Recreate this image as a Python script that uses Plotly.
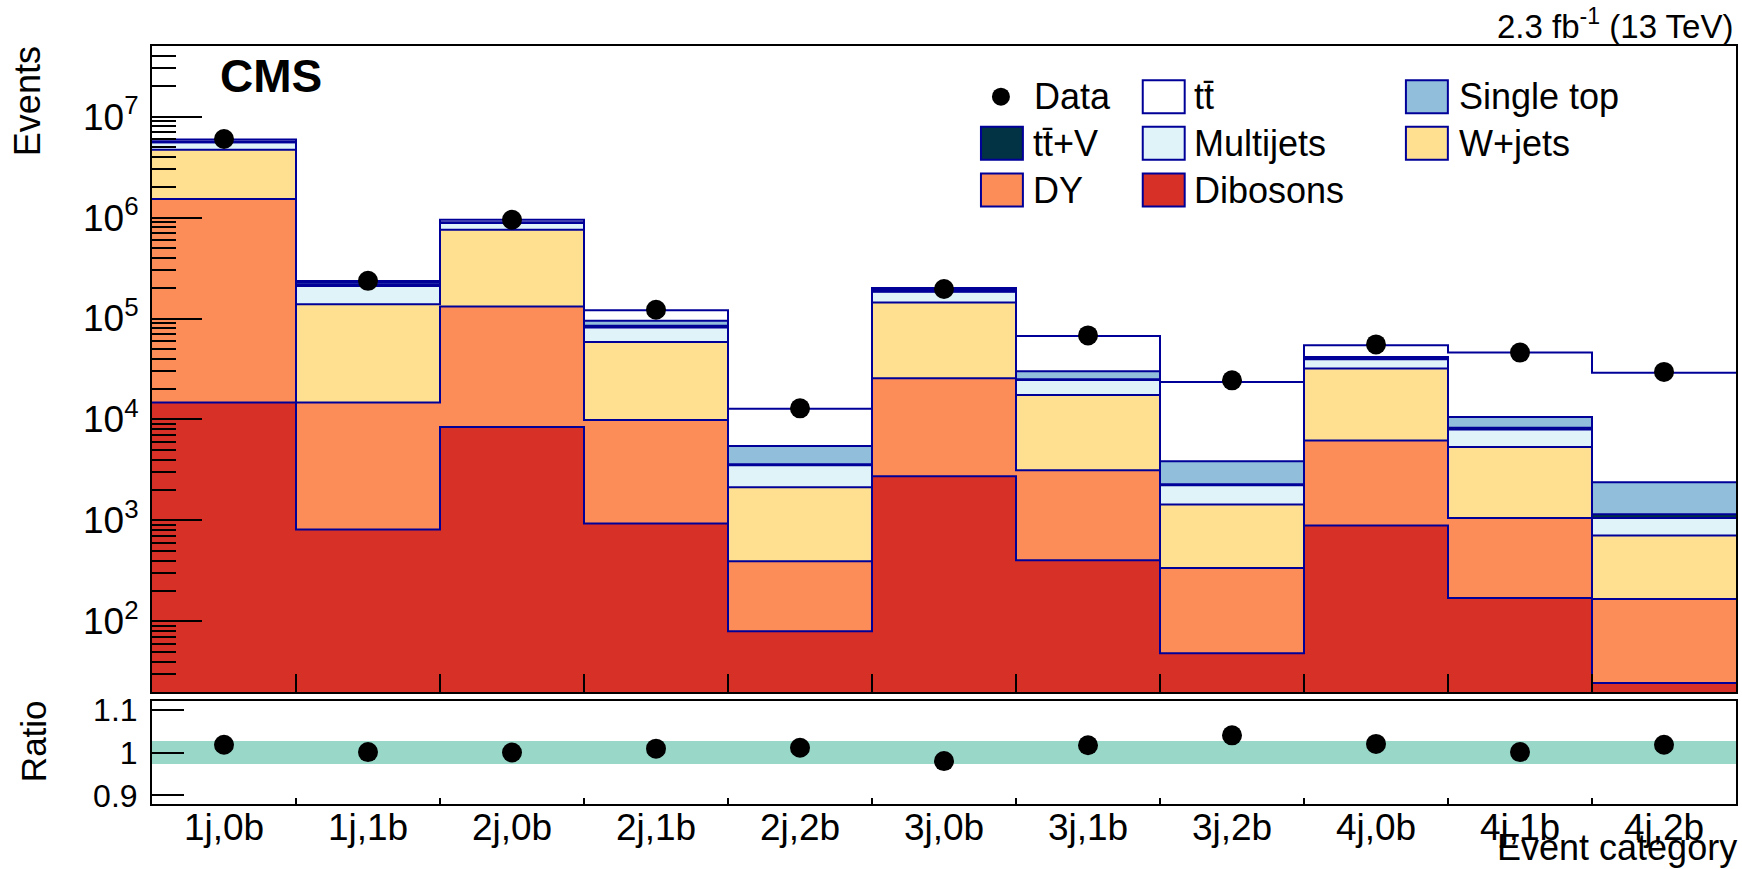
import numpy as np
import plotly.graph_objects as go

categories = ["1j,0b", "1j,1b", "2j,0b", "2j,1b", "2j,2b", "3j,0b",
              "3j,1b", "3j,2b", "4j,0b", "4j,1b", "4j,2b"]

# Stack components (bottom to top)
dibosons  = [14700, 813, 8410, 931, 80, 2740, 403, 48.5, 889, 171, 24.5]
dy        = [1.51e6, 1.39e4, 1.23e5, 8930, 314, 2.29e4, 2747, 290, 5311, 889, 142.5]
wjets     = [3.16e6, 1.24e5, 6.26e5, 4.87e4, 1736, 1.184e5, 1.435e4, 1100, 2.57e4, 4270, 541]
multijets = [8.9e5, 7.1e4, 1.24e5, 2.29e4, 1400, 4.0e4, 7100, 790, 7500, 2650, 352]
ttv       = [3000, 6000, 2000, 3500, 70, 2000, 400, 50, 600, 320, 90]
singletop = [9.7e4, 1.0e4, 1.7e4, 1.0e4, 1850, 6000, 5000, 1580, 1600, 2300, 1240]
ttbar     = [2.5e5, 1.0e4, 5.1e4, 2.6e4, 7350, 8000, 3.7e4, 1.964e4, 1.27e4, 3.54e4, 2.67e4]

data      = [6.0e6, 2.36e5, 9.5e5, 1.22e5, 1.29e4, 1.96e5, 6.8e4, 2.44e4, 5.54e4, 4.6e4, 2.96e4]
ratio     = [1.018, 1.001, 1.000, 1.009, 1.011, 0.980, 1.017, 1.040, 1.020, 1.001, 1.018]
ratio_unc = [0.027] * 11

ytick_vals = [1e2, 1e3, 1e4, 1e5, 1e6, 1e7]
ytick_text = ["10<sup>2</sup>", "10<sup>3</sup>", "10<sup>4</sup>", "10<sup>5</sup>",
              "10<sup>6</sup>", "10<sup>7</sup>"]
rtick_vals = [0.9, 1.0, 1.1]
rtick_text = ["0.9", "1", "1.1"]

processes = [
    ("Dibosons", dibosons, "#D73027"),
    ("DY", dy, "#FC8D59"),
    ("W+jets", wjets, "#FEE090"),
    ("Multijets", multijets, "#E0F3F8"),
    ("tt\u0304+V", ttv, "#023344"),
    ("Single top", singletop, "#91BFDB"),
    ("tt\u0304", ttbar, "#FFFFFF"),
]
OUTLINE = "#000099"
FONT = "Liberation Sans, Arial, Helvetica, sans-serif"

n = len(categories)
centers = np.arange(n) + 0.5
edges = np.arange(n + 1)

fig = go.Figure()

# filled stacked histograms
for name, vals, col in processes:
    fig.add_trace(go.Bar(x=centers, y=vals, width=1.0, marker=dict(color=col, line=dict(width=0)),
                         name=name, showlegend=False, xaxis="x", yaxis="y"))

# step outlines of each cumulative level
cum = np.zeros(n)
for name, vals, col in processes:
    cum = cum + np.array(vals, dtype=float)
    fig.add_trace(go.Scatter(x=edges, y=np.append(cum, cum[-1]), mode="lines",
                             line=dict(color=OUTLINE, width=2, shape="hv"),
                             showlegend=False, hoverinfo="skip", xaxis="x", yaxis="y"))

# data points
fig.add_trace(go.Scatter(x=centers, y=data, mode="markers",
                         marker=dict(color="black", size=20), showlegend=False,
                         xaxis="x", yaxis="y"))

# ratio band and points
unc = np.array(ratio_unc)
fig.add_trace(go.Bar(x=centers, y=2 * unc, base=1 - unc, width=1.0,
                     marker=dict(color="#99D8C9", line=dict(width=0)),
                     showlegend=False, xaxis="x2", yaxis="y2"))
fig.add_trace(go.Scatter(x=centers, y=ratio, mode="markers",
                         marker=dict(color="black", size=20), showlegend=False,
                         xaxis="x2", yaxis="y2"))

# geometry in pixels
L, R, T, B = 152, 1738, 46, 804
W, H = R - L, B - T
def fx(p):
    return (p - L) / W
def fy(p):
    return (B - p) / H

main_bottom = 692
ratio_top = 701

minor_vals = []
for e in range(1, 8):
    for d in range(2, 10):
        minor_vals.append(d * 10 ** e)

fig.update_layout(
    width=1742, height=869,
    margin=dict(l=L, r=1742 - R, t=T, b=869 - B),
    paper_bgcolor="white", plot_bgcolor="white",
    barmode="stack", bargap=0,
    font=dict(family=FONT, color="black"),
    xaxis=dict(domain=[0, 1], anchor="y", range=[0, n], showgrid=False, zeroline=False,
               tickmode="array", tickvals=list(edges[1:-1]), ticks="inside", ticklen=18,
               tickwidth=2, tickcolor="black", showticklabels=False,
               showline=True, linecolor="black", linewidth=2, mirror=True),
    yaxis=dict(domain=[fy(main_bottom), 1], anchor="x", type="log",
               range=[np.log10(20), np.log10(5e7)], showgrid=False, zeroline=False,
               tickmode="array", tickvals=ytick_vals, ticktext=ytick_text,
               ticks="inside", ticklen=50, tickwidth=2, tickcolor="black",
               tickfont=dict(size=37, family=FONT), ticklabelstandoff=4,
               minor=dict(tickmode="array", tickvals=minor_vals, ticks="inside",
                          ticklen=24, tickwidth=2, tickcolor="black", showgrid=False),
               showline=True, linecolor="black", linewidth=2, mirror=True),
    xaxis2=dict(domain=[0, 1], anchor="y2", range=[0, n], showgrid=False, zeroline=False,
                tickmode="array", tickvals=list(centers), ticktext=categories, ticks="",
                tickfont=dict(size=37, family=FONT), ticklabelstandoff=-10,
                minor=dict(tickmode="array", tickvals=list(edges[1:-1]), ticks="inside",
                           ticklen=6, tickwidth=2, tickcolor="black", showgrid=False),
                showline=True, linecolor="black", linewidth=2, mirror=True),
    yaxis2=dict(domain=[0, fy(ratio_top)], anchor="x2", range=[0.88, 1.12],
                showgrid=False, zeroline=False,
                tickmode="array", tickvals=rtick_vals, ticktext=rtick_text,
                ticks="inside", ticklen=32, tickwidth=2, tickcolor="black",
                tickfont=dict(size=32, family=FONT), ticklabelstandoff=6,
                showline=True, linecolor="black", linewidth=2, mirror=True),
)

annotations = [
    dict(text="<b>CMS</b>", x=fx(218), y=fy(76), xanchor="left", yanchor="middle",
         font=dict(size=46, family=FONT)),
    dict(text="2.3 fb<sup>-1</sup> (13 TeV)", x=fx(1737), y=fy(24), xanchor="right",
         yanchor="middle", font=dict(size=33, family=FONT)),
    dict(text="Events", x=fx(28), y=fy(101), textangle=-90, xanchor="center",
         yanchor="middle", font=dict(size=36, family=FONT)),
    dict(text="Ratio", x=fx(33), y=fy(741), textangle=-90, xanchor="center",
         yanchor="middle", font=dict(size=35, family=FONT)),
    dict(text="Event category", x=fx(1740), y=fy(869), xanchor="right",
         yanchor="bottom", borderpad=0, font=dict(size=36, family=FONT)),
]

shapes = []
rows = [96.7, 143.3, 190.0]
cols_box = [(982, 1024), (1144, 1186), (1407.5, 1449.5)]
cols_text = [1032, 1193, 1459]
legend_items = [
    (0, 0, "Data", None),
    (0, 1, "tt\u0304", "#FFFFFF"),
    (0, 2, "Single top", "#91BFDB"),
    (1, 0, "tt\u0304+V", "#023344"),
    (1, 1, "Multijets", "#E0F3F8"),
    (1, 2, "W+jets", "#FEE090"),
    (2, 0, "DY", "#FC8D59"),
    (2, 1, "Dibosons", "#D73027"),
]
for r_i, c_i, label, col in legend_items:
    yc = rows[r_i]
    x0, x1 = cols_box[c_i]
    if col is None:
        xc = 1002
        shapes.append(dict(type="circle", xref="paper", yref="paper",
                           x0=fx(xc - 9), x1=fx(xc + 9), y0=fy(yc + 9), y1=fy(yc - 9),
                           fillcolor="black", line=dict(width=0)))
        tx = 1033
    else:
        shapes.append(dict(type="rect", xref="paper", yref="paper",
                           x0=fx(x0), x1=fx(x1), y0=fy(yc + 16.5), y1=fy(yc - 16.5),
                           fillcolor=col, line=dict(color=OUTLINE, width=2)))
        tx = cols_text[c_i]
    annotations.append(dict(text=label, x=fx(tx), y=fy(yc), xanchor="left", yanchor="middle",
                            font=dict(size=36, family=FONT)))

for a in annotations:
    a.update(xref="paper", yref="paper", showarrow=False)

fig.update_layout(annotations=annotations, shapes=shapes)

# remove the default page margin so the 1742x869 figure fills the window exactly
fig.write_html("out.html", config={"displayModeBar": False},
               post_script="document.body.style.margin='0';document.body.style.overflow='hidden';")
